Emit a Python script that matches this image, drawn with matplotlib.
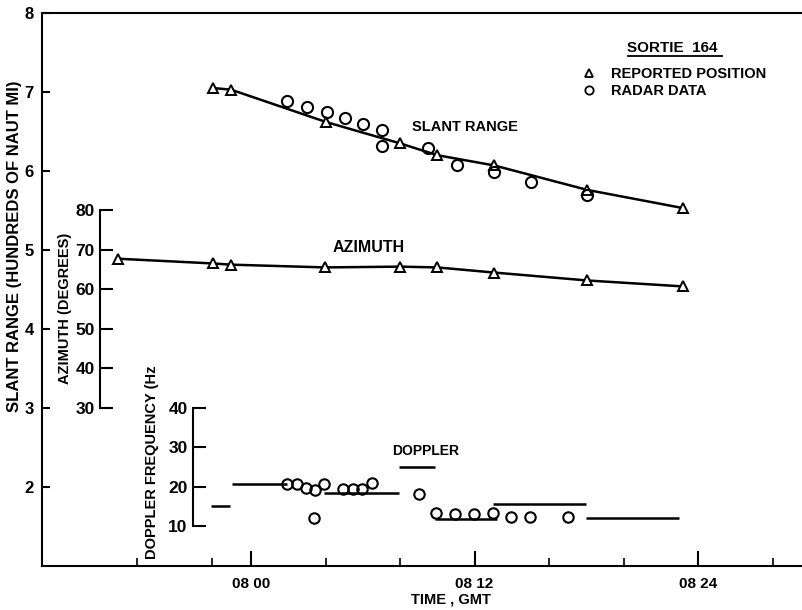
import matplotlib
matplotlib.use("Agg")
import matplotlib.pyplot as plt
from matplotlib.lines import Line2D

plt.rcParams['font.family'] = ['Liberation Sans', 'DejaVu Sans']
plt.rcParams['font.weight'] = 'bold'

# time in minutes after 08:00 GMT
# slant range, reported position (hundreds of naut mi)
sr_rep_t = [-2.04, -1.08, 4.03, 8.0, 10.0, 13.06, 18.06, 23.2]
sr_rep_v = [7.05, 7.03, 6.62, 6.35, 6.2, 6.07, 5.76, 5.53]
# slant range, radar data
sr_rad_t = [1.94, 3.01, 4.09, 5.05, 6.02, 7.04, 7.04, 9.52, 11.08, 13.06, 15.05, 18.06]
sr_rad_v = [6.89, 6.81, 6.75, 6.67, 6.59, 6.52, 6.32, 6.29, 6.08, 5.99, 5.86, 5.70]

# azimuth, reported position (degrees)
az_t = [-7.15, -2.04, -1.08, 3.98, 8.0, 10.0, 13.06, 18.06, 23.2]
az_v = [67.7, 66.5, 66.2, 65.5, 65.7, 65.5, 64.2, 62.2, 60.7]

# doppler, reported position segments (start, end, Hz)
dop_seg_t0 = [-2.15, -1.0, 3.9, 7.96, 9.9, 13.0, 18.0]
dop_seg_t1 = [-1.13, 1.94, 7.96, 9.9, 13.2, 18.0, 23.0]
dop_seg_v = [15.1, 20.6, 18.4, 25.0, 11.8, 15.6, 12.0]
# doppler, radar data
dop_rad_t = [1.94, 2.47, 2.96, 3.44, 3.39, 3.92, 4.95, 5.48, 5.97, 6.51,
             9.03, 9.95, 10.97, 11.99, 13.0, 13.98, 14.95, 16.99]
dop_rad_v = [20.7, 20.7, 19.7, 19.2, 12.0, 20.7, 19.4, 19.4, 19.4, 20.9,
             18.1, 13.3, 13.05, 13.05, 13.3, 12.3, 12.3, 12.3]

major_t = [0, 12, 24]
major_lbl = ["08 00", "08 12", "08 24"]
minor_t = [-6.1, -2.1, 4, 8, 16, 20, 28]

W, H = 803, 610
fig = plt.figure(figsize=(W / 100, H / 100), dpi=100)

def box(x0, y_top, x1, y_bot):
    return [x0 / W, 1 - y_bot / H, (x1 - x0) / W, (y_bot - y_top) / H]

ax = fig.add_axes(box(42, 13, 803, 566))
ax.set_xlim(-11.22, 29.63)
ax.set_ylim(1, 8)
ax.spines['right'].set_visible(False)
for s in ['left', 'bottom', 'top']:
    ax.spines[s].set_linewidth(1.5)
ax.set_yticks(range(2, 9))
ax.tick_params(axis='y', direction='in', length=6, width=1.5, labelsize=12, pad=6)
ax.set_xticks(major_t)
ax.set_xticklabels(major_lbl)
ax.set_xticks(minor_t, minor=True)
ax.tick_params(axis='x', which='major', direction='in', length=11, width=1.5, labelsize=11, pad=8)
ax.tick_params(axis='x', which='minor', direction='in', length=6, width=1.2)
ax.set_ylabel("SLANT RANGE (HUNDREDS OF NAUT MI)", fontsize=12, fontweight='bold')
ax.yaxis.set_label_coords((22 - 42) / 761, 0.579)
ax.set_xlabel("TIME , GMT", fontsize=10.5, fontweight='bold')
ax.xaxis.set_label_coords((451 - 42) / 761, -(592 - 566) / 553)

ax.plot(sr_rep_t, sr_rep_v, color='k', lw=1.8, marker='^', ms=7, mfc='white', mec='k', mew=1.4)
ax.plot(sr_rad_t, sr_rad_v, ls='none', marker='o', ms=8, mfc='none', mec='k', mew=1.5)
ax.text(8.64, 6.56, "SLANT RANGE", fontsize=10.5, fontweight='bold', va='center')

ax.text(20.2, 7.56, "SORTIE  164", fontsize=11, fontweight='bold', va='center')
fig.add_artist(Line2D([628 / W, 722 / W], [1 - 56 / H, 1 - 56 / H], color='k', lw=1.3))
handles = [Line2D([], [], ls='none', marker='^', ms=6, mfc='none', mec='k', mew=1.3),
           Line2D([], [], ls='none', marker='o', ms=6, mfc='none', mec='k', mew=1.3)]
ax.legend(handles, ["REPORTED POSITION", "RADAR DATA"], loc='upper left',
          bbox_to_anchor=(583 / W, 1 - 67 / H), bbox_transform=fig.transFigure,
          frameon=False, fontsize=10.5, handlelength=0.8, handletextpad=1.1,
          labelspacing=0.2, borderpad=0, borderaxespad=0)

# azimuth axes
az = fig.add_axes(box(42, 210, 803, 408), sharex=ax)
az.patch.set_visible(False)
az.set_ylim(30, 80)
for s in ['right', 'top', 'bottom']:
    az.spines[s].set_visible(False)
az.spines['left'].set_position(('data', -8.1))
az.spines['left'].set_linewidth(1.5)
az.set_yticks([30, 40, 50, 60, 70, 80])
az.tick_params(axis='y', direction='in', length=9, width=1.5, labelsize=12.5, pad=4)
az.tick_params(axis='x', which='both', bottom=False, labelbottom=False)
az.set_ylabel("AZIMUTH (DEGREES)", fontsize=10.5, fontweight='bold')
az.yaxis.set_label_coords((72 - 42) / 761, 0.505)
az.plot(az_t, az_v, color='k', lw=1.8, marker='^', ms=7, mfc='white', mec='k', mew=1.4)
az.text(4.4, 70.5, "AZIMUTH", fontsize=11.5, fontweight='bold', va='center')

# doppler axes
dp = fig.add_axes(box(42, 408, 803, 526), sharex=ax)
dp.patch.set_visible(False)
dp.set_ylim(10, 40)
for s in ['right', 'top', 'bottom']:
    dp.spines[s].set_visible(False)
dp.spines['left'].set_position(('data', -3.11))
dp.spines['left'].set_linewidth(1.5)
dp.set_yticks([10, 20, 30, 40])
dp.tick_params(axis='y', direction='in', length=9, width=1.5, labelsize=12.5, pad=4)
dp.tick_params(axis='x', which='both', bottom=False, labelbottom=False)
dp.set_ylabel("DOPPLER FREQUENCY (Hz", fontsize=10.5, fontweight='bold')
dp.yaxis.set_label_coords((159 - 42) / 761, 0.54)
dp.hlines(dop_seg_v, dop_seg_t0, dop_seg_t1, colors='k', lw=1.8)
dp.plot(dop_rad_t, dop_rad_v, ls='none', marker='o', ms=7.5, mfc='none', mec='k', mew=1.5, clip_on=False)
dp.text(7.57, 29.1, "DOPPLER", fontsize=10, fontweight='bold', va='center')

fig.savefig("out.png", dpi=100)
